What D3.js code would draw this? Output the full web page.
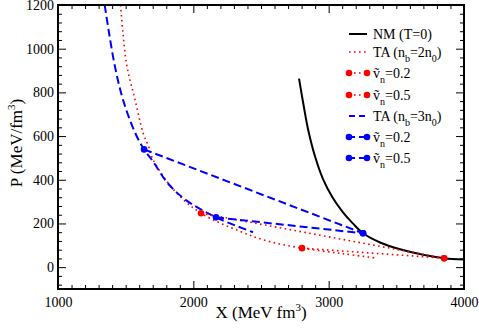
<!DOCTYPE html>
<html>
<head>
<meta charset="utf-8">
<script src="https://cdn.jsdelivr.net/npm/d3@7"></script>
<style>
  body { margin: 0; background: #fff; }
  svg { font-family: "Liberation Serif", "DejaVu Serif", serif; }
</style>
</head>
<body>
<div id="chart"></div>
<script>
// Step 1: data
//= ================================
// NM (T=0), black solid
var nmX = [2781, 2815, 2848, 2900, 2959, 3030, 3106, 3180, 3254, 3380, 3528, 3690, 3853, 4000];
var nmP = [863, 740, 630, 505, 402, 318, 251, 199, 155, 113, 82, 58, 41, 35];

// TA (nb = 2n0), red dotted
var ta2X = [1462, 1480, 1510, 1569, 1628, 1672, 1702, 1865, 2057, 2345, 2552, 2803, 3100, 3357];
var ta2P = [1200, 1073, 918, 767, 616, 548, 493, 347, 247, 164, 119, 87, 62, 41];

// TA (nb = 3n0), blue dashed
var ta3X = [1345, 1377, 1421, 1480, 1569, 1636, 1702, 1806, 1939, 2168, 2441];
var ta3P = [1200, 1073, 918, 767, 616, 539, 484, 388, 310, 228, 160];

// straight lines between the two phases, with markers at both ends
var redV02X = [2057, 3853], redV02P = [247, 41];
var redV05X = [2803, 3853], redV05P = [87, 41];
var blueV02X = [1636, 3254], blueV02P = [539, 155];
var blueV05X = [2168, 3254], blueV05P = [228, 155];

var xMajor = [1000, 2000, 3000, 4000];
var yMajor = [0, 200, 400, 600, 800, 1000, 1200];

// Step 2: set up the chart
//= ================================
var svgWidth = 479;
var svgHeight = 330;

var margin = { top: 5, right: 15, bottom: 41, left: 58 };
var width = svgWidth - margin.left - margin.right;
var height = svgHeight - margin.top - margin.bottom;

var svg = d3.select("#chart")
  .append("svg")
  .attr("width", svgWidth)
  .attr("height", svgHeight);

var chartGroup = svg.append("g")
  .attr("transform", `translate(${margin.left}, ${margin.top})`);

var xScale = d3.scaleLinear().domain([1000, 4000]).range([0, width]);
var yScale = d3.scaleLinear().domain([-100, 1200]).range([height, 0]);

chartGroup.append("clipPath")
  .attr("id", "clip")
  .append("rect")
  .attr("width", width)
  .attr("height", height);

function zipPts(xs, ps) {
  return xs.map((x, i) => [x, ps[i]]);
}

var line = d3.line()
  .x(d => xScale(d[0]))
  .y(d => yScale(d[1]))
  .curve(d3.curveCatmullRom);

var plot = chartGroup.append("g").attr("clip-path", "url(#clip)");

// TA curves
plot.append("path")
  .attr("d", line(zipPts(ta2X, ta2P)))
  .attr("fill", "none")
  .attr("stroke", "red")
  .attr("stroke-width", 1.6)
  .attr("stroke-dasharray", "1.6,3.4");

plot.append("path")
  .attr("d", line(zipPts(ta3X, ta3P)))
  .attr("fill", "none")
  .attr("stroke", "blue")
  .attr("stroke-width", 2)
  .attr("stroke-dasharray", "8,4");

// NM curve
plot.append("path")
  .attr("d", line(zipPts(nmX, nmP)))
  .attr("fill", "none")
  .attr("stroke", "black")
  .attr("stroke-width", 2);

// tie lines
var ties = [
  { xs: redV02X, ps: redV02P, color: "red", dash: "1.6,3.4", w: 1.6 },
  { xs: redV05X, ps: redV05P, color: "red", dash: "1.6,3.4", w: 1.6 },
  { xs: blueV02X, ps: blueV02P, color: "blue", dash: "8,4", w: 2 },
  { xs: blueV05X, ps: blueV05P, color: "blue", dash: "8,4", w: 2 }
];

ties.forEach(function(t) {
  var pts = zipPts(t.xs, t.ps);
  plot.append("path")
    .attr("d", d3.line().x(d => xScale(d[0])).y(d => yScale(d[1]))(pts))
    .attr("fill", "none")
    .attr("stroke", t.color)
    .attr("stroke-width", t.w)
    .attr("stroke-dasharray", t.dash);
  plot.selectAll(null)
    .data(pts)
    .enter()
    .append("circle")
    .attr("cx", d => xScale(d[0]))
    .attr("cy", d => yScale(d[1]))
    .attr("r", 3.3)
    .attr("fill", t.color);
});

// Step 3: axes, ticks inward on all four sides
//= ================================
var xMinor = d3.range(1000, 4001, 100).filter(v => v % 1000 !== 0);
var yMinor = d3.range(-80, 1201, 40).filter(v => v % 200 !== 0);

function drawAxis(axisFn, scale, transform, major, minor, labels) {
  var g = chartGroup.append("g").attr("transform", transform);
  g.call(axisFn(scale).tickValues(minor).tickSize(-4).tickFormat(""));
  var gm = chartGroup.append("g").attr("transform", transform);
  gm.call(axisFn(scale).tickValues(major).tickSize(-8).tickPadding(labels ? 12 : 0)
    .tickFormat(labels ? d3.format("d") : ""));
  [g, gm].forEach(function(a) {
    a.select(".domain").remove();
    a.selectAll(".tick line").attr("stroke", "black").attr("stroke-width", 1);
    a.selectAll("text").attr("font-size", 14).attr("fill", "black")
      .attr("font-family", "Liberation Serif, serif");
  });
  return gm;
}

var bx = drawAxis(d3.axisBottom, xScale, `translate(0, ${height})`, xMajor, xMinor, true);
bx.selectAll("text").attr("dy", "0.45em");
drawAxis(d3.axisTop, xScale, "translate(0, 0)", xMajor, xMinor, false);
var ly = drawAxis(d3.axisLeft, yScale, "translate(0, 0)", yMajor, yMinor, true);
ly.selectAll("text").attr("dx", "8");
drawAxis(d3.axisRight, yScale, `translate(${width}, 0)`, yMajor, yMinor, false);

// frame
chartGroup.append("rect")
  .attr("width", width)
  .attr("height", height)
  .attr("fill", "none")
  .attr("stroke", "black")
  .attr("stroke-width", 2);

// axis titles
var xTitle = svg.append("text")
  .attr("x", margin.left + width / 2)
  .attr("y", 318)
  .attr("text-anchor", "middle")
  .attr("font-size", 17);
xTitle.append("tspan").text("X (MeV fm");
xTitle.append("tspan").attr("font-size", 11).attr("dy", -7).text("3");
xTitle.append("tspan").attr("dy", 7).text(")");

var yTitle = svg.append("text")
  .attr("transform", `translate(22, ${margin.top + height / 2 - 4}) rotate(-90)`)
  .attr("text-anchor", "middle")
  .attr("font-size", 17);
yTitle.append("tspan").text("P (MeV/fm");
yTitle.append("tspan").attr("font-size", 11).attr("dy", -7).text("3");
yTitle.append("tspan").attr("dy", 7).text(")");

// Step 4: legend
//= ================================
var legendRows = [
  { y: 34, color: "black", dash: null, w: 2, dots: false, label: ["NM (T=0)"] },
  { y: 52, color: "red", dash: "1.6,3.4", w: 1.6, dots: false, label: ["TA (n", "b", "=2n", "0", ")"] },
  { y: 73, color: "red", dash: "1.6,3.4", w: 1.6, dots: true, label: ["\u1E7D", "n", "=0.2"] },
  { y: 95, color: "red", dash: "1.6,3.4", w: 1.6, dots: true, label: ["\u1E7D", "n", "=0.5"] },
  { y: 116, color: "blue", dash: "6,4", w: 2, dots: false, label: ["TA (n", "b", "=3n", "0", ")"] },
  { y: 137, color: "blue", dash: "6,4", w: 2, dots: true, label: ["\u1E7D", "n", "=0.2"] },
  { y: 158, color: "blue", dash: "6,4", w: 2, dots: true, label: ["\u1E7D", "n", "=0.5"] }
];

var legend = svg.append("g");
legendRows.forEach(function(r) {
  legend.append("line")
    .attr("x1", 349).attr("x2", 367)
    .attr("y1", r.y).attr("y2", r.y)
    .attr("stroke", r.color)
    .attr("stroke-width", r.w)
    .attr("stroke-dasharray", r.dash);
  if (r.dots) {
    [349, 367].forEach(function(cx) {
      legend.append("circle").attr("cx", cx).attr("cy", r.y).attr("r", 3.3).attr("fill", r.color);
    });
  }
  var t = legend.append("text")
    .attr("x", 373)
    .attr("y", r.y + 5)
    .attr("font-size", 14);
  r.label.forEach(function(s, i) {
    var ts = t.append("tspan").text(s);
    if (i % 2 === 1) ts.attr("font-size", 10).attr("dy", 5);
    else if (i > 0) ts.attr("dy", -5);
  });
});
</script>
</body>
</html>
